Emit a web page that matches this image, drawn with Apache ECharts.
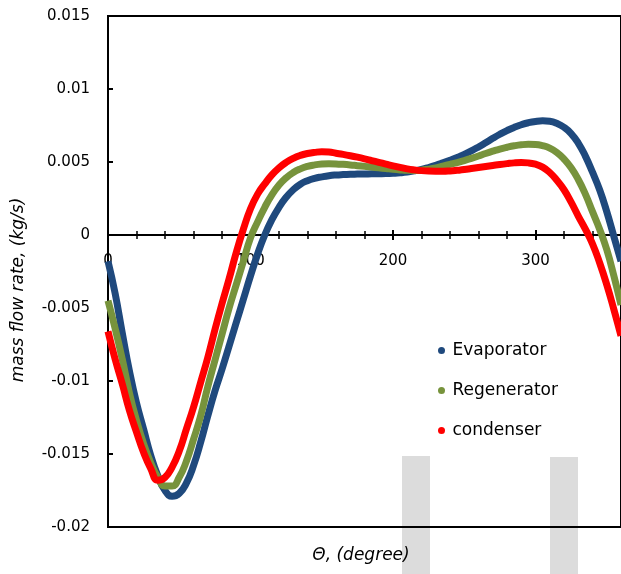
<!DOCTYPE html>
<html>
<head>
<meta charset="utf-8">
<script src="https://cdn.jsdelivr.net/npm/echarts@6/dist/echarts.min.js"></script>
<style>html,body{margin:0;padding:0;background:#fff}#c{width:621px;height:574px}</style>
</head>
<body>
<div id="c"></div>
<script>
var theta = [0,5,10,15,20,25,30,35,40,45,50,55,60,65,70,75,80,85,90,95,100,105,110,115,120,125,130,135,140,145,150,155,160,165,170,175,180,185,190,195,200,205,210,215,220,225,230,235,240,245,250,255,260,265,270,275,280,285,290,295,300,305,310,315,320,325,330,335,340,345,350,355,360];
var evaporator = [-0.0018,-0.0040,-0.0067,-0.0093,-0.0115,-0.0133,-0.0151,-0.0165,-0.0175,-0.0179,-0.0177,-0.0170,-0.0158,-0.0142,-0.0124,-0.0107,-0.0092,-0.0076,-0.0060,-0.0044,-0.0028,-0.0013,0.0000,0.00105,0.0019,0.00258,0.0031,0.00348,0.00372,0.00388,0.00398,0.00406,0.00411,0.00414,0.00416,0.00417,0.00418,0.00419,0.0042,0.00421,0.00423,0.00426,0.00431,0.00439,0.00449,0.00462,0.00477,0.00494,0.00512,0.00531,0.00552,0.00576,0.00603,0.00632,0.00662,0.0069,0.00715,0.00737,0.00755,0.00769,0.00778,0.00782,0.00779,0.00765,0.00738,0.00695,0.0063,0.0054,0.0043,0.0031,0.0016,-0.0001,-0.0018];
var regenerator = [-0.0045,-0.0064,-0.0085,-0.0108,-0.0127,-0.0143,-0.0156,-0.0166,-0.0172,-0.0172,-0.0166,-0.0155,-0.0140,-0.0124,-0.0104,-0.0086,-0.0068,-0.0050,-0.0034,-0.0018,-0.0002,0.0009,0.0019,0.00275,0.00342,0.00392,0.00428,0.00453,0.0047,0.0048,0.00486,0.00488,0.00487,0.00484,0.0048,0.00475,0.0047,0.00465,0.0046,0.00455,0.0045,0.00446,0.00443,0.00442,0.00444,0.00451,0.0046,0.00472,0.00484,0.00496,0.0051,0.00525,0.00541,0.00558,0.00574,0.00589,0.00601,0.00611,0.00618,0.00621,0.0062,0.00612,0.00595,0.00565,0.0052,0.0046,0.0038,0.0028,0.0016,0.0004,-0.0010,-0.0028,-0.0048];
var condenser = [-0.0066,-0.0085,-0.0102,-0.0120,-0.0135,-0.0149,-0.0160,-0.0168,-0.0166,-0.0159,-0.0148,-0.0133,-0.0118,-0.0101,-0.0084,-0.0065,-0.0047,-0.0030,-0.0012,0.0004,0.0018,0.0028,0.0035,0.00412,0.0046,0.00497,0.00525,0.00545,0.00558,0.00566,0.0057,0.00568,0.0056,0.00552,0.00543,0.00533,0.00522,0.0051,0.00498,0.00486,0.00474,0.00463,0.00453,0.00446,0.00441,0.00438,0.00437,0.00437,0.00439,0.00443,0.00448,0.00455,0.00462,0.00469,0.00476,0.00483,0.00489,0.00494,0.00496,0.00494,0.00485,0.00465,0.00428,0.00375,0.0031,0.00225,0.0013,0.0004,-0.0006,-0.0019,-0.0034,-0.0051,-0.0069];
var seriesNames = ['Evaporator','Regenerator','condenser'];
var seriesColors = ['#1F497D','#77933C','#FF0000'];
var xTitle = 'Θ, (degree)';
var yTitle = 'mass flow rate, (kg/s)';

function pairs(ys){ return theta.map(function(t,i){ return [t, ys[i]]; }); }
var allData = [evaporator, regenerator, condenser];

var FONT = '"DejaVu Sans", sans-serif';
var chart = echarts.init(document.getElementById('c'), null, {renderer:'canvas'});
chart.setOption({
  animation: false,
  backgroundColor: '#fff',
  grid: {left:108, top:16, right:-4, bottom:47, show:true, borderColor:'#000', borderWidth:2, backgroundColor:'transparent'},
  xAxis: [{
    type:'value', min:0, max:360, interval:100,
    axisLine:{onZero:true, lineStyle:{color:'#000', width:2}},
    axisTick:{show:true, length:5, lineStyle:{color:'#000', width:2}},
    minorTick:{show:true, splitNumber:5, length:4, lineStyle:{color:'#000', width:1.5}},
    axisLabel:{show:false},
    splitLine:{show:false}
  },{
    type:'value', min:0, max:360, interval:100, position:'top', offset:-219,
    axisLine:{onZero:false, lineStyle:{color:'#000', width:2}},
    axisTick:{show:true, length:5, lineStyle:{color:'#000', width:2}},
    minorTick:{show:true, splitNumber:5, length:4, lineStyle:{color:'#000', width:1.5}},
    axisLabel:{show:false},
    splitLine:{show:false}
  },{
    type:'value', min:0, max:360, interval:100, position:'bottom', offset:-292,
    axisLine:{show:false, onZero:false},
    axisTick:{show:false},
    axisLabel:{fontFamily:FONT, fontSize:15, color:'#000', margin:19, showMaxLabel:false},
    splitLine:{show:false}
  }],
  yAxis: {
    type:'value', min:-0.02, max:0.015, interval:0.005,
    axisLine:{show:true, onZero:false, lineStyle:{color:'#000', width:2}},
    axisTick:{show:true, inside:true, length:5, lineStyle:{color:'#000', width:2}},
    axisLabel:{fontFamily:FONT, fontSize:15, color:'#000', margin:18},
    splitLine:{show:false}
  },
  legend: {
    orient:'vertical', left:433, top:336, itemWidth:12, itemHeight:7, itemGap:21,
    icon:'circle', data:seriesNames,
    textStyle:{fontFamily:FONT, fontSize:17, color:'#000', lineHeight:19}
  },
  graphic: [
    {type:'rect', z:-10, shape:{x:402, y:456, width:28, height:118}, style:{fill:'#dcdcdc'}},
    {type:'rect', z:-10, shape:{x:550, y:457, width:28, height:117}, style:{fill:'#dcdcdc'}},
    {type:'text', z:10, x:361, y:556, style:{text:xTitle, font:'italic 17px ' + FONT, fill:'#000', textAlign:'center', textVerticalAlign:'middle'}},
    {type:'text', z:10, x:19, y:290, rotation:Math.PI/2, style:{text:yTitle, font:'italic 17px ' + FONT, fill:'#000', textAlign:'center', textVerticalAlign:'middle'}}
  ],
  series: allData.map(function(d, i){
    return {
      type:'line', name:seriesNames[i], data:pairs(d), smooth:0.5, showSymbol:false,
      xAxisIndex:0,
      lineStyle:{color:seriesColors[i], width:7},
      itemStyle:{color:seriesColors[i]}
    };
  })
});
</script>
</body>
</html>
